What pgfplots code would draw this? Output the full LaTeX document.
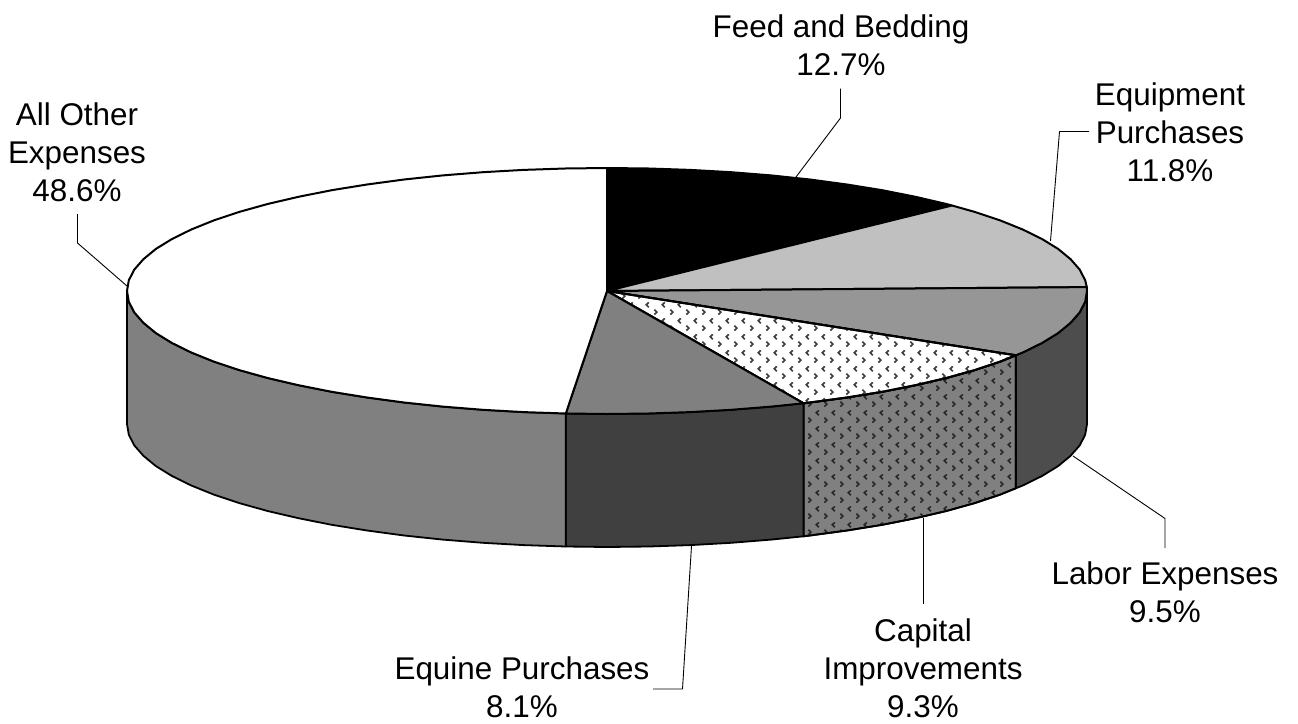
\documentclass[border=0pt]{standalone}
\usepackage{fontspec}
\setmainfont{Liberation Sans}
\usepackage{pgfplots}
\pgfplotsset{compat=1.18}
\usetikzlibrary{patterns}
\pgfdeclarepatternformonly{chev}{\pgfpoint{0pt}{0pt}}{\pgfpoint{15.5pt}{15.5pt}}{\pgfpoint{15.5pt}{15.5pt}}{%
  \pgfsetlinewidth{1.7pt}%
  \pgfpathmoveto{\pgfpoint{2.4pt}{7.5pt}}\pgfpathlineto{\pgfpoint{5pt}{5pt}}\pgfpathlineto{\pgfpoint{2.4pt}{2.5pt}}%
  \pgfpathmoveto{\pgfpoint{13.2pt}{15pt}}\pgfpathlineto{\pgfpoint{10.6pt}{12.5pt}}\pgfpathlineto{\pgfpoint{13.2pt}{10pt}}%
  \pgfusepath{stroke}}
\tikzset{
  pedge/.style={draw=black,line width=1.8pt},
  ptop/.style={draw=black,line width=2pt},
  pleader/.style={draw=black,line width=0.9pt},
  plab/.style={font=\fontsize{31.4}{37.9}\selectfont,align=center,anchor=center,inner sep=0pt,text=black}}
\begin{document}
\begin{tikzpicture}
\useasboundingbox (0,0) rectangle (1298pt,723pt);
\begin{axis}[at={(0,0)},anchor=south west,scale only axis,width=1298pt,height=723pt,
  xmin=0,xmax=1298,ymin=0,ymax=723,y dir=reverse,axis lines=none,clip=false,
  every axis plot/.append style={no markers,sharp plot,line join=round}]
% sides
\addplot[pedge,fill={rgb,255:red,77;green,77;blue,77}] coordinates {(1087,291)(1085.2,301.7)(1079.7,312.4)(1070.6,322.8)(1058.1,333.1)(1042,343)(1022.7,352.5)(1015.7,355.3)(1015.7,488.3)(1022.7,485.5)(1042,476)(1058.1,466.1)(1070.6,455.8)(1079.7,445.4)(1085.2,434.7)(1087,424)} -- cycle;
\addplot[pedge,fill={rgb,255:red,128;green,128;blue,128},postaction={pattern=chev,pattern color={rgb,255:red,40;green,40;blue,40}}] coordinates {(1015.7,355.3)(1000.2,361.6)(974.7,370.1)(946.4,378)(915.5,385.2)(882.3,391.8)(847,397.5)(809.9,402.5)(803.5,403.3)(803.5,536.3)(809.9,535.5)(847,530.5)(882.3,524.8)(915.5,518.2)(946.4,511)(974.7,503.1)(1000.2,494.6)(1015.7,488.3)} -- cycle;
\addplot[pedge,fill={rgb,255:red,64;green,64;blue,64}] coordinates {(803.5,403.3)(771.2,406.6)(731.2,409.8)(690.4,412.1)(648.8,413.5)(607,414)(565.8,413.5)(565.8,546.5)(607,547)(648.8,546.5)(690.4,545.1)(731.2,542.8)(771.2,539.6)(803.5,536.3)} -- cycle;
\addplot[pedge,fill={rgb,255:red,128;green,128;blue,128}] coordinates {(565.8,413.5)(523.6,412.1)(482.8,409.8)(442.8,406.6)(404.1,402.5)(367,397.5)(331.7,391.8)(298.5,385.2)(267.6,378)(239.3,370.1)(213.8,361.6)(191.3,352.5)(172,343)(155.9,333.1)(143.4,322.8)(134.3,312.4)(128.8,301.7)(127,291)(127,424)(128.8,434.7)(134.3,445.4)(143.4,455.8)(155.9,466.1)(172,476)(191.3,485.5)(213.8,494.6)(239.3,503.1)(267.6,511)(298.5,518.2)(331.7,524.8)(367,530.5)(404.1,535.5)(442.8,539.6)(482.8,542.8)(523.6,545.1)(565.8,546.5)} -- cycle;
% top sectors
\addplot[ptop,fill=black] coordinates {(607,291)(607,168)(648.8,168.5)(690.4,169.9)(731.2,172.2)(771.2,175.4)(809.9,179.5)(847,184.5)(882.3,190.2)(915.5,196.8)(946.4,204)(952,205.5)} -- cycle;
\addplot[ptop,fill={rgb,255:red,192;green,192;blue,192}] coordinates {(607,291)(952,205.5)(974.7,211.9)(1000.2,220.4)(1022.7,229.5)(1042,239)(1058.1,248.9)(1070.6,259.2)(1079.7,269.6)(1085.2,280.3)(1086.8,287.1)} -- cycle;
\addplot[ptop,fill={rgb,255:red,150;green,150;blue,150}] coordinates {(607,291)(1086.8,287.1)(1087,291)(1085.2,301.7)(1079.7,312.4)(1070.6,322.8)(1058.1,333.1)(1042,343)(1022.7,352.5)(1015.7,355.3)} -- cycle;
\addplot[ptop,fill=white,postaction={pattern=chev,pattern color={rgb,255:red,64;green,64;blue,64}}] coordinates {(607,291)(1015.7,355.3)(1000.2,361.6)(974.7,370.1)(946.4,378)(915.5,385.2)(882.3,391.8)(847,397.5)(809.9,402.5)(803.5,403.3)} -- cycle;
\addplot[ptop,fill={rgb,255:red,128;green,128;blue,128}] coordinates {(607,291)(803.5,403.3)(771.2,406.6)(731.2,409.8)(690.4,412.1)(648.8,413.5)(607,414)(565.8,413.5)} -- cycle;
\addplot[ptop,fill=white] coordinates {(607,291)(565.8,413.5)(523.6,412.1)(482.8,409.8)(442.8,406.6)(404.1,402.5)(367,397.5)(331.7,391.8)(298.5,385.2)(267.6,378)(239.3,370.1)(213.8,361.6)(191.3,352.5)(172,343)(155.9,333.1)(143.4,322.8)(134.3,312.4)(128.8,301.7)(127,291)(128.8,280.3)(134.3,269.6)(143.4,259.2)(155.9,248.9)(172,239)(191.3,229.5)(213.8,220.4)(239.3,211.9)(267.6,204)(298.5,196.8)(331.7,190.2)(367,184.5)(404.1,179.5)(442.8,175.4)(482.8,172.2)(523.6,169.9)(565.2,168.5)(607,168)} -- cycle;
% leader lines
\addplot[pleader] coordinates {(840.5,88.5)(840.5,118)(796,177)};
\addplot[pleader] coordinates {(1089,131.5)(1059.5,131.5)(1050.5,241)};
\addplot[pleader] coordinates {(77.5,214)(77.5,243)(127,286)};
\addplot[pleader] coordinates {(1073,456)(1165,518.5)(1165,548)};
\addplot[pleader] coordinates {(923.5,518)(923.5,604)};
\addplot[pleader] coordinates {(691.5,546)(682.5,689)(653,689)};
% labels
\node[plab] at (axis cs:841,45.5) {Feed and Bedding\\12.7\%};
\node[plab] at (axis cs:1170,132.5) {Equipment\\Purchases\\11.8\%};
\node[plab] at (axis cs:77,152.5) {All Other\\Expenses\\48.6\%};
\node[plab] at (axis cs:1165,592.5) {Labor Expenses\\9.5\%};
\node[plab] at (axis cs:923,668.5) {Capital\\Improvements\\9.3\%};
\node[plab] at (axis cs:522,687.5) {Equine Purchases\\8.1\%};
\end{axis}
\end{tikzpicture}
\end{document}
